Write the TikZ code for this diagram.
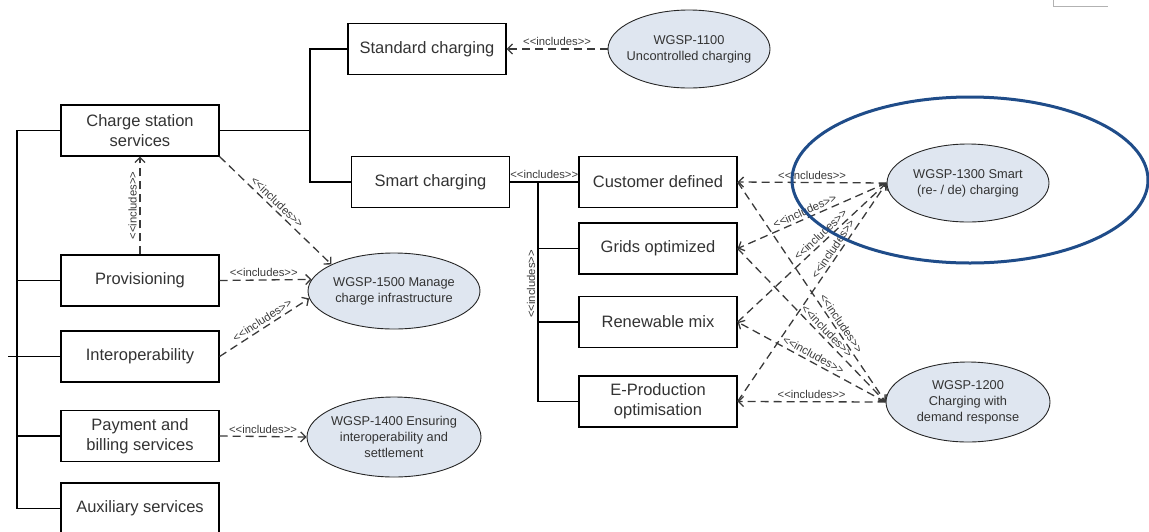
\documentclass[tikz,border=0pt]{standalone}
\usepackage{fontspec}
\setmainfont{Liberation Sans}
\usetikzlibrary{shapes.geometric,arrows.meta}
\definecolor{boxtext}{HTML}{333333}
\definecolor{dashgrey}{HTML}{3A3A3A}
\definecolor{ucfill}{HTML}{DFE6F0}
\definecolor{ringblue}{HTML}{1F4C89}
\newcommand\inctext{<{}<includes>{}>}

\begin{document}
\begin{tikzpicture}[x=1pt,y=-1pt,
  svcbox/.style={draw=black, line width=1.2pt, minimum width=158pt, minimum height=51pt,
    inner sep=0pt, align=center, text=boxtext, font=\fontsize{16.5}{20}\selectfont},
  usecase/.style={ellipse, draw=black!85, line width=0.9pt, fill=ucfill, inner sep=0pt,
    inner xsep=-20pt, align=center, text=boxtext, font=\fontsize{12.8}{16}\selectfont},
  tree/.style={draw=black, line width=1.2pt},
  inc/.style={draw=dashgrey, line width=1.3pt, dash pattern=on 8pt off 5pt,
    -{Straight Barb[length=5pt,width=10pt]}},
  inclabel/.style={text=dashgrey, font=\fontsize{11.3}{12}\selectfont, inner sep=2.5pt},
]
\useasboundingbox (0,0) rectangle (1149,531);

% service boxes
\node[svcbox] (std)     at (427,49)    {Standard charging};
\node[svcbox] (cs)      at (140,130.5) {Charge station\\services};
\node[svcbox] (smart)   at (430.5,182) {Smart charging};
\node[svcbox] (cust)    at (658,182)   {Customer defined};
\node[svcbox] (grid)    at (658,248.5) {Grids optimized};
\node[svcbox] (renew)   at (658,322)   {Renewable mix};
\node[svcbox] (eprod)   at (658,401.5) {E-Production\\optimisation};
\node[svcbox] (prov)    at (140,280.5) {Provisioning};
\node[svcbox] (interop) at (140,356.5) {Interoperability};
\node[svcbox] (pay)     at (140,436)   {Payment and\\billing services};
\node[svcbox] (aux)     at (140,508.5) {Auxiliary services};

% use cases
\node[usecase, minimum width=162pt, minimum height=78pt] (u1100) at (689,49)
  {WGSP-1100\\Uncontrolled charging};
\node[usecase, minimum width=172pt, minimum height=76pt] (u1500) at (394,291)
  {WGSP-1500 Manage\\charge infrastructure};
\node[usecase, minimum width=174pt, minimum height=80pt] (u1400) at (394,437)
  {WGSP-1400 Ensuring\\interoperability and\\settlement};
\node[usecase, minimum width=162pt, minimum height=78pt] (u1300) at (968,183)
  {WGSP-1300 Smart\\(re- / de) charging};
\node[usecase, minimum width=164pt, minimum height=80pt] (u1200) at (968,402)
  {WGSP-1200\\Charging with\\demand response};

% tree connections
\coordinate (spine) at (17,0);
\coordinate (stub) at (8,356.5);
\coordinate (fork) at (310,0);
\coordinate (bus) at (538,0);
\draw[tree] (cs.west) -| (spine |- aux.west) -- (aux.west);
\draw[tree] (prov.west) -- (prov.west -| spine);
\draw[tree] (interop.west) -- (stub);
\draw[tree] (pay.west) -- (pay.west -| spine);
\draw[tree] (cs.east) -- (cs.east -| fork);
\draw[tree] (std.west) -| (fork |- smart.west) -- (smart.west);
\draw[tree] (smart.east) -- (cust.west) node[inclabel, midway, above] {\inctext};
\draw[tree] (bus |- cust.west) -- (bus |- eprod.west) -- (eprod.west);
\draw[tree] (grid.west) -- (grid.west -| bus);
\draw[tree] (renew.west) -- (renew.west -| bus);
\node[inclabel, rotate=90, anchor=south] (buslabel) at (538,284) {\inctext};

% include relations, left part
\draw[inc] (u1100.west) -- (std.east) node[inclabel, midway, above] {\inctext};
\draw[inc] (cs.south east) -- (u1500.157) node[inclabel, pos=0.47, sloped, above] {\inctext};
\draw[inc] (prov.east) -- (u1500.172) node[inclabel, pos=0.48, above] {\inctext};
\draw[inc] (interop.east) -- (u1500.185) node[inclabel, pos=0.52, sloped, above] {\inctext};
\draw[inc] (prov.north) -- (cs.south) node[inclabel, midway, rotate=90, above] {\inctext};
\draw[inc] (pay.east) -- (u1400.west) node[inclabel, midway, above] {\inctext};

% include relations, smart charging part
\draw[inc] (u1300.west) -- (cust.east)  node[inclabel, midway, above] {\inctext};
\draw[inc] (u1300.west) -- (grid.east)  node[inclabel, pos=0.53, sloped, above] {\inctext};
\draw[inc] (renew.east) -- (u1300.west) node[inclabel, pos=0.59, sloped, above] {\inctext};
\draw[inc] (eprod.east) -- (u1300.west) node[inclabel, pos=0.68, sloped, above] {\inctext};
\draw[inc] (cust.east)  -- (u1200.west) node[inclabel, pos=0.66, sloped, above] {\inctext};
\draw[inc] (grid.east)  -- (u1200.west) node[inclabel, pos=0.57, sloped, above] {\inctext};
\draw[inc] (u1200.west) -- (renew.east) node[inclabel, pos=0.51, sloped, above] {\inctext};
\draw[inc] (u1200.west) -- (eprod.east) node[inclabel, midway, above] {\inctext};

% highlight ring
\node[ellipse, draw=ringblue, line width=3pt, minimum width=356pt, minimum height=166pt,
  inner sep=0pt] (focus) at (970,180) {};

% corner mark
\draw[black!30, line width=1pt] (1053,0) -- (1053,6) -- (1108,6);
\end{tikzpicture}
\end{document}
